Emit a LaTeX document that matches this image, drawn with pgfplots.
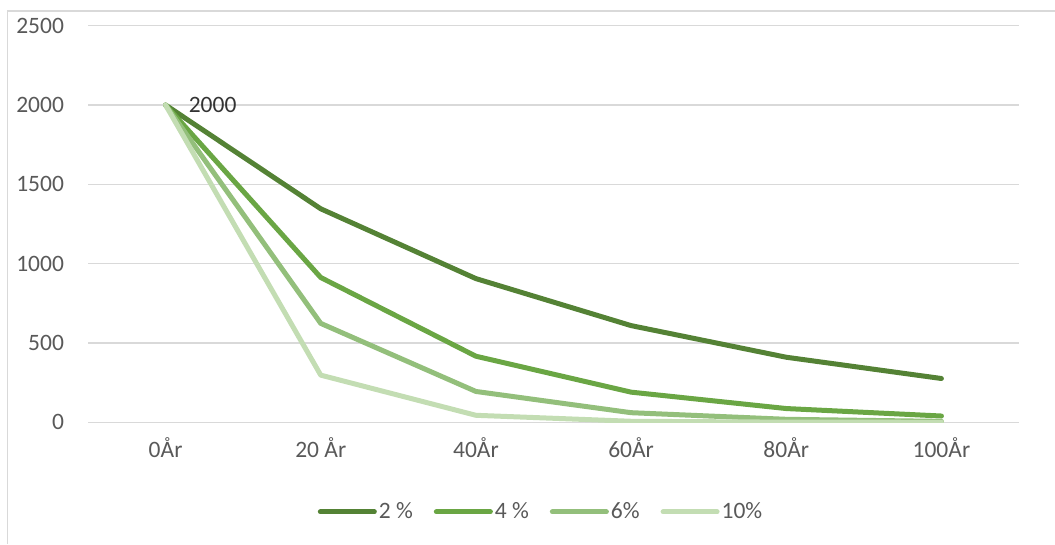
\documentclass[border=0pt]{standalone}
\usepackage{pgfplots}
\pgfplotsset{compat=1.18}
\usepackage{fontspec}
\setmainfont{Carlito}
\definecolor{txt}{HTML}{595959}
\definecolor{grd}{HTML}{D9D9D9}
\definecolor{cA}{HTML}{548235}
\definecolor{cB}{HTML}{6AA644}
\definecolor{cC}{HTML}{93BF7B}
\definecolor{cD}{HTML}{C3DDB3}
\begin{document}
\fontsize{23.5}{28}\selectfont
\begin{tikzpicture}
\useasboundingbox (0pt,0pt) rectangle (1055pt,-544pt);
\draw[grd, line width=1.3pt] (7.5pt,-544pt) -- (7.5pt,-11pt) -- (1055pt,-11pt);
\begin{axis}[
  at={(88pt,-422.3pt)}, anchor=south west,
  scale only axis, width=931pt, height=396.6pt,
  xmin=-0.5, xmax=5.5, ymin=0, ymax=2500,
  xtick={0,1,2,3,4,5},
  xticklabels={0År,20 År,40År,60År,80År,100År},
  ytick={0,500,1000,1500,2000,2500},
  axis line style={draw=none},
  major tick length=0pt,
  ymajorgrids, grid style={grd, line width=1.3pt},
  tick label style={txt, font=\fontsize{23.5}{28}\selectfont},
  /pgf/number format/assume math mode=true,
  /pgf/number format/1000 sep={},
  yticklabel style={xshift=-16pt},
  xticklabel style={yshift=-7pt},
  legend columns=4,
  legend style={draw=none, fill=none, at={(0.4866,-0.226)}, anchor=center,
    font=\fontsize{23.5}{28}\selectfont, text=txt,
    /tikz/every even column/.append style={column sep=19pt},
    inner sep=0pt},
  legend image code/.code={\draw[#1, line cap=round] (0pt,0pt) -- (54pt,0pt);},
  every axis plot/.append style={line width=5pt, line join=round, line cap=round},
]
\addplot[cA] coordinates {(0,2000) (1,1345.94) (2,905.78) (3,609.57) (4,410.22) (5,276.07)};
\addlegendentry{2 \%}
\addplot[cB] coordinates {(0,2000) (1,912.77) (2,416.58) (3,190.12) (4,86.77) (5,39.60)};
\addlegendentry{4 \%}
\addplot[cC] coordinates {(0,2000) (1,623.61) (2,194.44) (3,60.63) (4,18.90) (5,5.89)};
\addlegendentry{6\%}
\addplot[cD] coordinates {(0,2000) (1,297.29) (2,44.19) (3,6.57) (4,0.98) (5,0.15)};
\addlegendentry{10\%}
\node[anchor=west, text=black!80, font=\fontsize{23.5}{28}\selectfont, xshift=23pt, inner sep=0pt] at (axis cs:0,2000) {2000};
\end{axis}
\end{tikzpicture}
\end{document}
